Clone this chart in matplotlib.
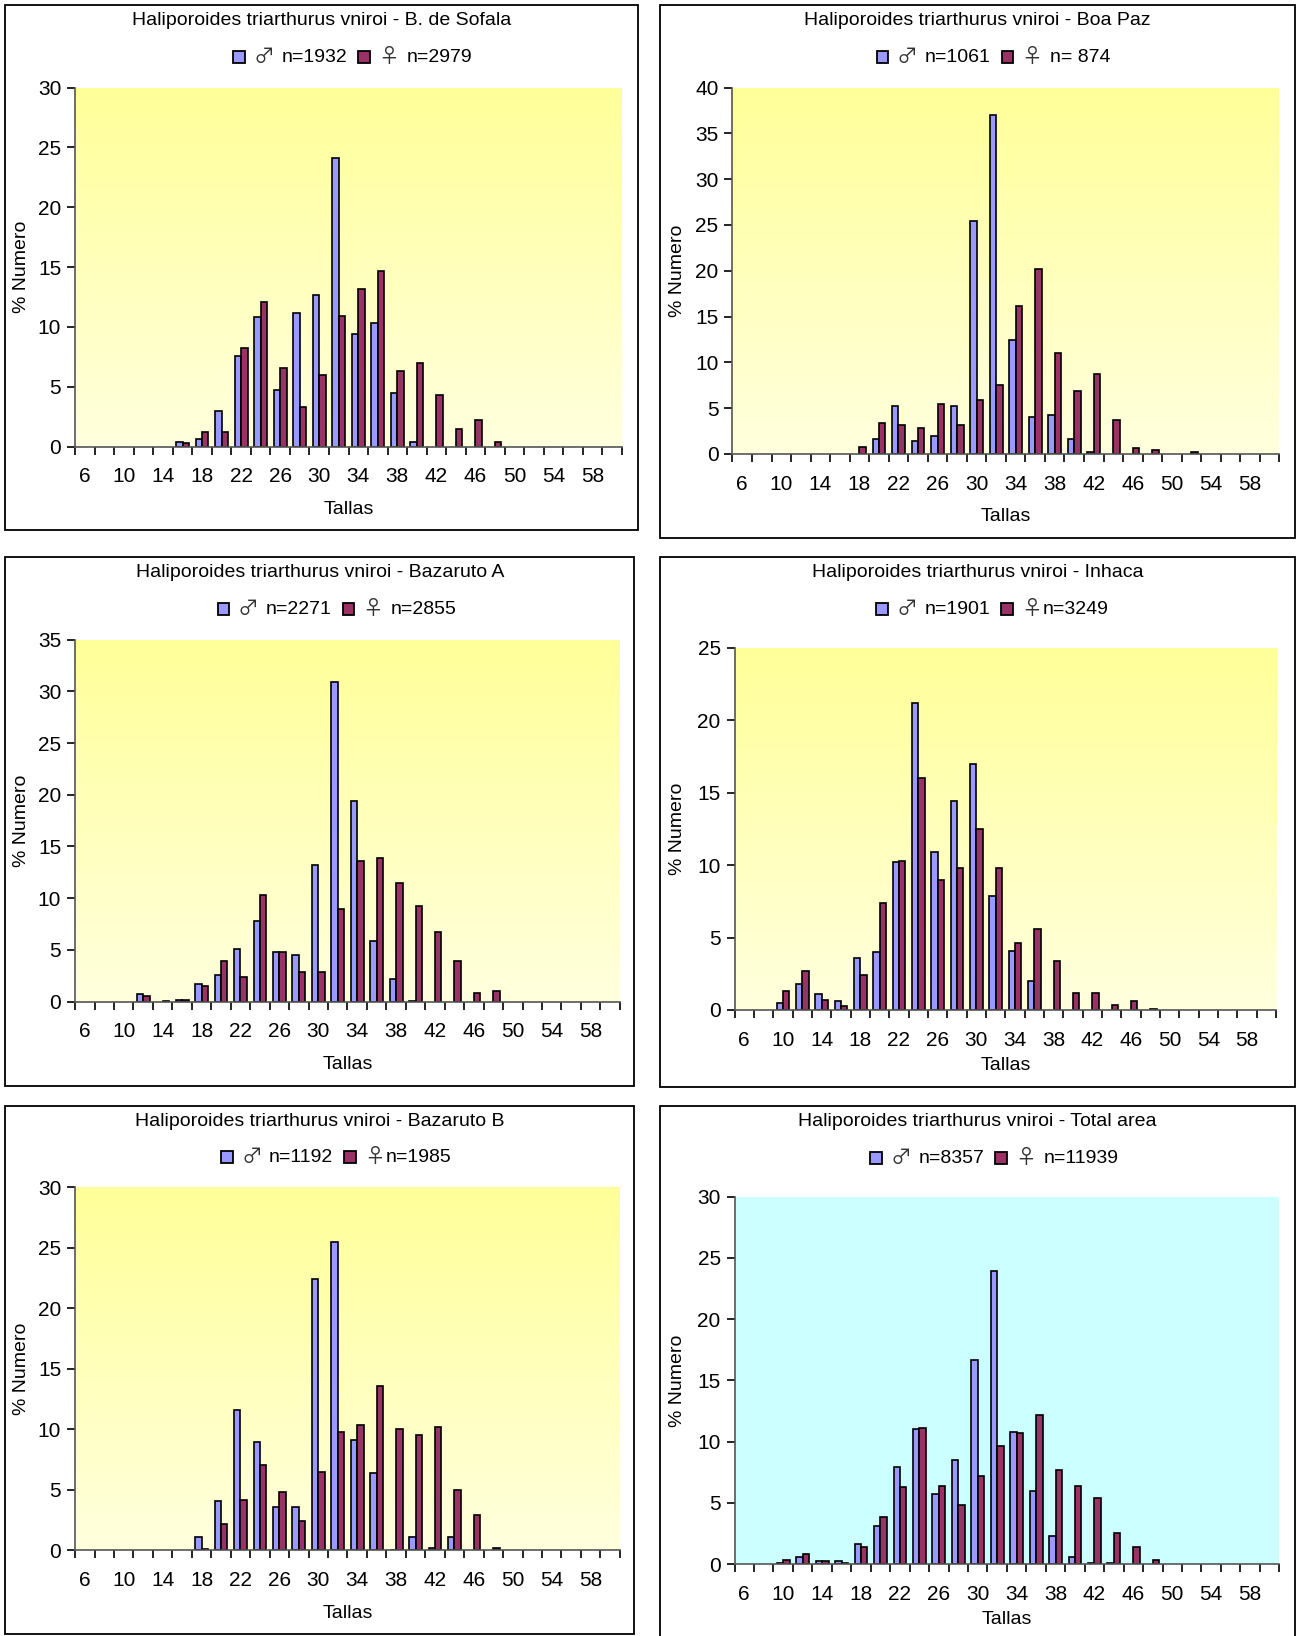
import matplotlib.pyplot as plt
import numpy as np
from matplotlib.patches import Rectangle
from matplotlib.colors import LinearSegmentedColormap
from matplotlib.offsetbox import HPacker, TextArea, DrawingArea, AnchoredOffsetbox

plt.rcParams['font.family'] = ['Liberation Sans', 'DejaVu Sans']

# Size classes (Tallas)
tallas = list(range(6, 62, 2))
tick_labels = [str(t) if (t - 6) % 4 == 0 else '' for t in tallas]

# % Numero per size class, male / female
sofala_m = [0, 0, 0, 0, 0, 0.4, 0.6, 3.0, 7.6, 10.8, 4.7, 11.2, 12.7, 24.1, 9.4, 10.3, 4.5, 0.4, 0, 0, 0, 0, 0, 0, 0, 0, 0, 0]
sofala_f = [0, 0, 0, 0, 0, 0.3, 1.2, 1.2, 8.2, 12.1, 6.6, 3.3, 6.0, 10.9, 13.2, 14.7, 6.3, 7.0, 4.3, 1.5, 2.2, 0.4, 0, 0, 0, 0, 0, 0]
boapaz_m = [0, 0, 0, 0, 0, 0, 0, 1.6, 5.2, 1.4, 2.0, 5.2, 25.4, 37.0, 12.4, 4.0, 4.2, 1.6, 0.2, 0, 0, 0, 0, 0, 0, 0, 0, 0]
boapaz_f = [0, 0, 0, 0, 0, 0, 0.8, 3.4, 3.2, 2.8, 5.4, 3.2, 5.9, 7.5, 16.2, 20.2, 11.0, 6.9, 8.7, 3.7, 0.6, 0.4, 0, 0.2, 0, 0, 0, 0]
bazA_m = [0, 0, 0, 0.7, 0, 0.15, 1.7, 2.6, 5.1, 7.8, 4.8, 4.5, 13.2, 30.9, 19.4, 5.9, 2.2, 0.1, 0, 0, 0, 0, 0, 0, 0, 0, 0, 0]
bazA_f = [0, 0, 0, 0.5, 0.1, 0.15, 1.5, 3.9, 2.4, 10.3, 4.8, 2.9, 2.9, 9.0, 13.6, 13.9, 11.5, 9.2, 6.7, 3.9, 0.8, 1.0, 0, 0, 0, 0, 0, 0]
inhaca_m = [0, 0, 0.5, 1.8, 1.1, 0.6, 3.6, 4.0, 10.2, 21.2, 10.9, 14.4, 17.0, 7.9, 4.1, 2.0, 0, 0, 0, 0, 0, 0, 0, 0, 0, 0, 0, 0]
inhaca_f = [0, 0, 1.3, 2.7, 0.7, 0.25, 2.4, 7.4, 10.3, 16.0, 9.0, 9.8, 12.5, 9.8, 4.6, 5.6, 3.4, 1.2, 1.2, 0.35, 0.6, 0.1, 0, 0, 0, 0, 0, 0]
bazB_m = [0, 0, 0, 0, 0, 0, 1.1, 4.1, 11.6, 9.0, 3.6, 3.6, 22.4, 25.5, 9.1, 6.4, 0.05, 1.1, 0.2, 1.1, 0, 0, 0, 0, 0, 0, 0, 0]
bazB_f = [0, 0, 0, 0, 0, 0, 0.1, 2.2, 4.2, 7.1, 4.8, 2.4, 6.5, 9.8, 10.4, 13.6, 10.0, 9.5, 10.2, 5.0, 2.9, 0.2, 0, 0, 0, 0, 0, 0]
total_m = [0, 0, 0.05, 0.6, 0.25, 0.25, 1.6, 3.1, 7.9, 11.0, 5.7, 8.5, 16.7, 23.9, 10.8, 6.0, 2.3, 0.6, 0.05, 0.05, 0, 0, 0, 0, 0, 0, 0, 0]
total_f = [0, 0, 0.3, 0.8, 0.25, 0.1, 1.4, 3.8, 6.3, 11.1, 6.4, 4.8, 7.2, 9.6, 10.7, 12.2, 7.7, 6.4, 5.4, 2.5, 1.4, 0.35, 0, 0, 0, 0, 0, 0]

titles = ['Haliporoides triarthurus vniroi - B. de Sofala',
          'Haliporoides triarthurus vniroi - Boa Paz',
          'Haliporoides triarthurus vniroi - Bazaruto A',
          'Haliporoides triarthurus vniroi - Inhaca',
          'Haliporoides triarthurus vniroi - Bazaruto B',
          'Haliporoides triarthurus vniroi - Total area']
male_labels = ['♂ n=1932', '♂ n=1061', '♂ n=2271', '♂ n=1901', '♂ n=1192', '♂ n=8357']
female_labels = ['♀ n=2979', '♀ n= 874', '♀ n=2855', '♀n=3249', '♀n=1985', '♀ n=11939']
ymaxes = [30, 40, 35, 25, 30, 30]
males = [sofala_m, boapaz_m, bazA_m, inhaca_m, bazB_m, total_m]
females = [sofala_f, boapaz_f, bazA_f, inhaca_f, bazB_f, total_f]

# layout in reference pixels (1243 x 1568 view)
W, H = 1243.0, 1568.0
borders = [(5, 5, 611, 508), (633, 5, 1241, 516),
           (5, 534, 608, 1041), (633, 534, 1241, 1042),
           (5, 1060, 608, 1566), (633, 1060, 1241, 1575)]
plots = [(72, 84, 596, 428), (702, 84, 1226, 435),
         (72, 613, 594, 960), (704, 621, 1223, 968),
         (72, 1138, 594, 1486), (704, 1147, 1226, 1499)]
title_y = [20, 20, 549, 549, 1075, 1075]
legend_y = [55, 55, 584, 584, 1109, 1110]
legend_x = [338, 952, 323, 951, 322, 953]
xlab_y = [488, 495, 1020, 1021, 1546, 1552]

yellow = LinearSegmentedColormap.from_list('yel', ['#FFFFDE', '#FFFF99'])
c_male, c_female = '#9999FF', '#993366'

fig = plt.figure(figsize=(12.97, 16.36), dpi=100)
fs = 14
tfs = 15


def swatch(color):
    da = DrawingArea(8.5, 8.5, 0, 0)
    da.add_artist(Rectangle((0, 0), 8.5, 8.5, fc=color, ec='black', lw=1.3))
    return da


def legend_entry(label, color):
    sym = TextArea(label[0], textprops=dict(family='Noto Sans CJK JP', fontsize=15, color='#333333'))
    txt = TextArea(label[1:].strip(), textprops=dict(fontsize=fs))
    gap = 5 if label[1] == ' ' else 0
    head = HPacker(children=[swatch(color), sym], pad=0, sep=6, align='center')
    return HPacker(children=[head, txt], pad=0, sep=gap, align='center')


for k in range(6):
    bx0, by0, bx1, by1 = borders[k]
    fig.add_artist(Rectangle((bx0 / W, 1 - by1 / H), (bx1 - bx0) / W, (by1 - by0) / H,
                             transform=fig.transFigure, fill=False, ec='black', lw=1.3))
    px0, py0, px1, py1 = plots[k]
    ax = fig.add_axes([px0 / W, 1 - py1 / H, (px1 - px0) / W, (py1 - py0) / H])

    if k == 5:
        ax.set_facecolor('#CCFFFF')
    else:
        grad = np.linspace(0, 1, 256).reshape(-1, 1)
        ax.imshow(grad, cmap=yellow, aspect='auto', extent=[0, 1, 0, 1],
                  transform=ax.transAxes, origin='lower', zorder=0)

    x = np.arange(len(tallas)) + 0.5
    m = np.array(males[k], dtype=float)
    f = np.array(females[k], dtype=float)
    w = 0.33
    mm = m > 0
    ff = f > 0
    ax.bar(x[mm] - w / 2, m[mm], width=w, color=c_male, edgecolor='black', lw=1.2, zorder=2)
    ax.bar(x[ff] + w / 2, f[ff], width=w, color=c_female, edgecolor='black', lw=1.2, zorder=2)

    ax.set_xlim(0, len(tallas))
    ax.set_ylim(0, ymaxes[k])
    ax.set_xticks(np.arange(len(tallas) + 1))
    ax.set_xticklabels([])
    ax.set_xticks(x, minor=True)
    ax.set_xticklabels(tick_labels, minor=True)
    ax.set_yticks(np.arange(0, ymaxes[k] + 1, 5))
    ax.tick_params(which='major', axis='x', length=6, width=1.2, direction='out')
    ax.tick_params(which='minor', axis='x', length=0, pad=15, labelsize=tfs)
    ax.tick_params(axis='y', length=6, width=1.2, direction='out', labelsize=tfs, pad=4)
    for s in ['top', 'right']:
        ax.spines[s].set_visible(False)
    for s in ['left', 'bottom']:
        ax.spines[s].set_linewidth(1.2)
        ax.spines[s].set_color('#555555')

    cx = (bx0 + bx1) / 2 / W
    pcx = (px0 + px1) / 2 / W
    fig.text(cx, 1 - title_y[k] / H, titles[k], ha='center', va='center', fontsize=fs)
    fig.text(pcx, 1 - xlab_y[k] / H, 'Tallas', ha='center', va='center', fontsize=fs)
    fig.text((bx0 + 16) / W, 1 - (py0 + py1) / 2 / H, '% Numero', rotation=90,
             ha='center', va='center', fontsize=fs)

    # legend: swatch, sex symbol, n=...
    box = HPacker(children=[legend_entry(male_labels[k], c_male),
                            legend_entry(female_labels[k], c_female)],
                  pad=0, sep=8, align='center')
    anch = AnchoredOffsetbox(loc='center', child=box, pad=0, borderpad=0, frameon=False,
                             bbox_to_anchor=(legend_x[k] / W, 1 - legend_y[k] / H),
                             bbox_transform=fig.transFigure)
    ax.add_artist(anch)

fig.savefig('out.png', dpi=100, facecolor='white')
